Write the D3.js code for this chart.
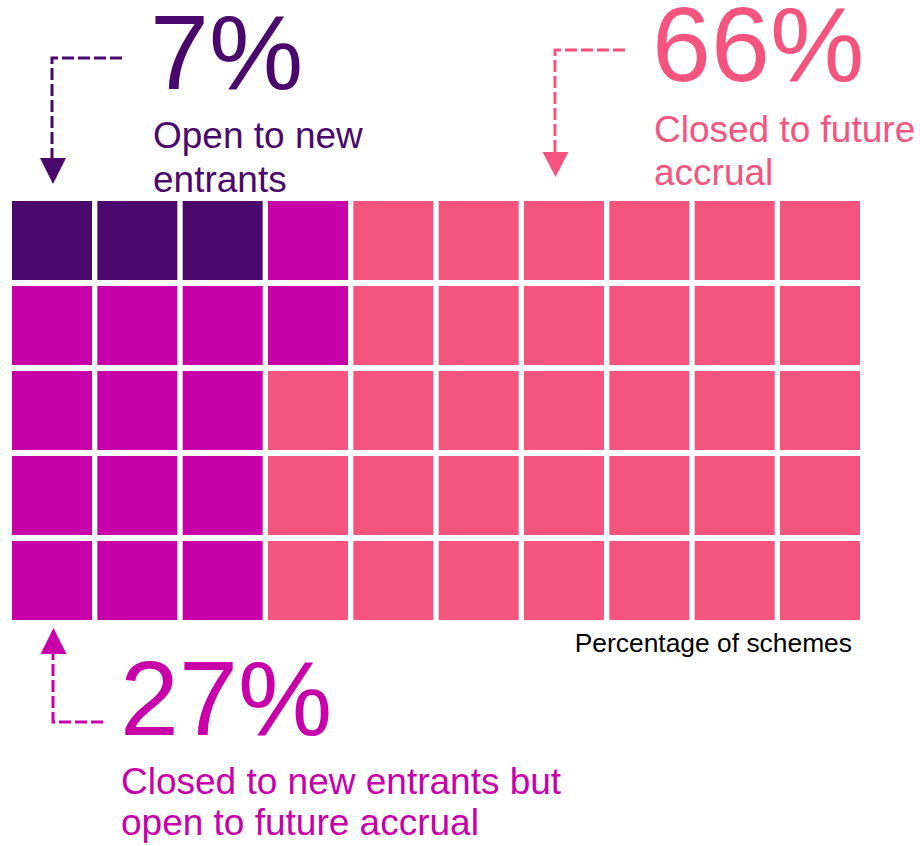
<!DOCTYPE html>
<html>
<head>
<meta charset="utf-8">
<script src="https://cdn.jsdelivr.net/npm/d3@7"></script>
<style>
  html, body { margin: 0; padding: 0; background: #fff; }
  svg { display: block; font-family: "Liberation Sans", Arial, Helvetica, sans-serif; }
</style>
</head>
<body>
<svg id="chart" width="920" height="846"></svg>
<script>
// Pension scheme status, share of schemes (each cell = 2%)
const categories = [
  "Open to new entrants",
  "Closed to new entrants but open to future accrual",
  "Closed to future accrual"
];
const percentages = [7, 27, 66];
const cellCounts = [3, 14, 33];           // cells per category out of 50
const labelLines = [
  ["Open to new", "entrants"],
  ["Closed to new entrants but", "open to future accrual"],
  ["Closed to future", "accrual"]
];
const axisLabel = "Percentage of schemes";

const colors = ["#4A086C", "#C800AA", "#F5547F"];
const nCols = 10, nRows = 5;

const svg = d3.select("#chart");

const x = d3.scaleBand().domain(d3.range(nCols)).range([12, 860]).paddingInner(0.0625);
const y = d3.scaleBand().domain(d3.range(nRows)).range([201, 620]).paddingInner(0.0706);

// Assign categories to cells: first category runs along the top row,
// the rest fill column by column through the remaining cells.
const grid = d3.range(nRows).map(() => d3.range(nCols).map(() => null));
let k = 0;
for (let i = 0; i < cellCounts[0]; i++, k++) grid[Math.floor(k / nCols)][k % nCols] = 0;
const colOrder = [];
for (let c = 0; c < nCols; c++) for (let r = 0; r < nRows; r++) if (grid[r][c] === null) colOrder.push([r, c]);
let p = 0;
for (let cat = 1; cat < cellCounts.length; cat++) {
  for (let i = 0; i < cellCounts[cat]; i++, p++) {
    const [r, c] = colOrder[p];
    grid[r][c] = cat;
  }
}
const cells = [];
grid.forEach((row, r) => row.forEach((cat, c) => cells.push({ r, c, cat })));

svg.append("g").selectAll("rect")
  .data(cells)
  .join("rect")
  .attr("x", d => x(d.c))
  .attr("y", d => y(d.r))
  .attr("width", x.bandwidth())
  .attr("height", y.bandwidth())
  .attr("fill", d => colors[d.cat]);

// Axis caption under the grid
svg.append("text")
  .attr("x", 852).attr("y", 652)
  .attr("text-anchor", "end")
  .attr("font-size", 26.4)
  .attr("fill", "#000")
  .text(axisLabel);

// Callouts: big percentage, descriptive lines, dashed elbow arrow
const callouts = [
  { cat: 0, px: 150, py: 89, lx: 153, ly: [148, 192],
    path: [[122, 58], [52, 58], [52, 160]], head: { x: 53, tip: 184, base: 158 } },
  { cat: 2, px: 652, py: 81, lx: 654, ly: [142, 185],
    path: [[625, 50], [555, 50], [555, 154]], head: { x: 555.5, tip: 177, base: 152 } },
  { cat: 1, px: 120, py: 735, lx: 121, ly: [794, 835],
    path: [[103, 722], [53, 722], [53, 652]], head: { x: 53.5, tip: 628, base: 654 } }
];

const line = d3.line();
callouts.forEach(cfg => {
  const g = svg.append("g").attr("fill", colors[cfg.cat]);
  g.append("text")
    .attr("x", cfg.px).attr("y", cfg.py)
    .attr("font-size", 106)
    .text(percentages[cfg.cat] + "%");
  labelLines[cfg.cat].forEach((t, i) => {
    g.append("text")
      .attr("x", cfg.lx).attr("y", cfg.ly[i])
      .attr("font-size", 37)
      .text(t);
  });
  g.append("path")
    .attr("d", line(cfg.path))
    .attr("fill", "none")
    .attr("stroke", colors[cfg.cat])
    .attr("stroke-width", 3)
    .attr("stroke-dasharray", "12,4");
  const h = cfg.head;
  g.append("path")
    .attr("d", line([[h.x - 13, h.base], [h.x + 13, h.base], [h.x, h.tip]]) + "Z");
});
</script>
</body>
</html>
